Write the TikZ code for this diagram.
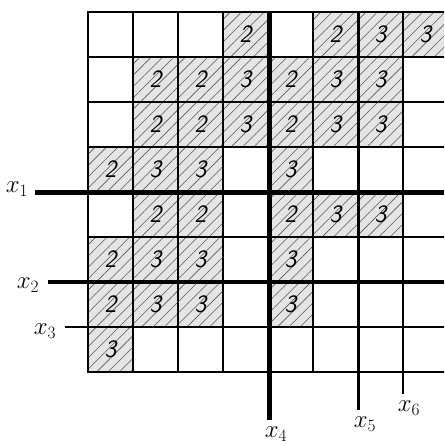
\documentclass[tikz,border=0pt]{standalone}
\usetikzlibrary{patterns.meta}
\begin{document}
\begin{tikzpicture}[x=1pt,y=-1pt,
  hatch/.style={preaction={fill=black!10},pattern={Lines[angle=45,distance=8pt,line width=0.6pt]},pattern color=black!65},
  num/.style={font=\fontsize{25}{27}\selectfont\sffamily\slshape,inner sep=0pt},
  gridline/.style={line width=1.7pt,line cap=rect},
  lbl/.style={font=\fontsize{25}{27}\selectfont,inner sep=0pt}]
\useasboundingbox (0,0) rectangle (444,446);
\begin{scope}
\clip (0,0) rectangle (444,446);
% hatched cells with numbers: column/row/number
\foreach \c/\r/\n in {4/1/2,6/1/2,7/1/3,8/1/3,
  2/2/2,3/2/2,4/2/3,5/2/2,6/2/3,7/2/3,
  2/3/2,3/3/2,4/3/3,5/3/2,6/3/3,7/3/3,
  1/4/2,2/4/3,3/4/3,5/4/3,
  2/5/2,3/5/2,5/5/2,6/5/3,7/5/3,
  1/6/2,2/6/3,3/6/3,5/6/3,
  1/7/2,2/7/3,3/7/3,5/7/3,
  1/8/3}{
  \path[hatch] ({88+45*(\c-1)},{12+45*(\r-1)}) rectangle +(45,45);
  \node[num] (n\c-\r) at ({88+45*(\c-0.5)},{12+45*(\r-0.5)}) {\n};
}
% grid
\foreach \i in {0,...,8}{
  \draw[gridline] ({88+45*\i},12) -- ({88+45*\i},372);
  \draw[gridline] (88,{12+45*\i}) -- (448,{12+45*\i});
}
% cut lines
\coordinate (x1s) at (35,192); \coordinate (x1e) at (444,192);
\coordinate (x2s) at (48,282); \coordinate (x2e) at (444,282);
\coordinate (x3s) at (65,327); \coordinate (x3e) at (444,327);
\coordinate (x4s) at (269,12); \coordinate (x4e) at (269,420);
\coordinate (x5s) at (358,12); \coordinate (x5e) at (358,410);
\coordinate (x6s) at (403,12); \coordinate (x6e) at (403,394);
\draw[line width=5pt] (x1s) -- (x1e);
\draw[line width=3.5pt] (x2s) -- (x2e);
\draw[line width=2pt] (x3s) -- (x3e);
\draw[line width=5pt] (x4s) -- (x4e);
\draw[line width=3pt] (x5s) -- (x5e);
\draw[line width=1.8pt] (x6s) -- (x6e);
\end{scope}
\node[lbl] (l1) at (17,189) {$x_1$};
\node[lbl] (l2) at (28,285) {$x_2$};
\node[lbl] (l3) at (45,331) {$x_3$};
\node[lbl] (l4) at (276,434) {$x_4$};
\node[lbl] (l5) at (365,424) {$x_5$};
\node[lbl] (l6) at (409,408) {$x_6$};
\end{tikzpicture}
\end{document}
